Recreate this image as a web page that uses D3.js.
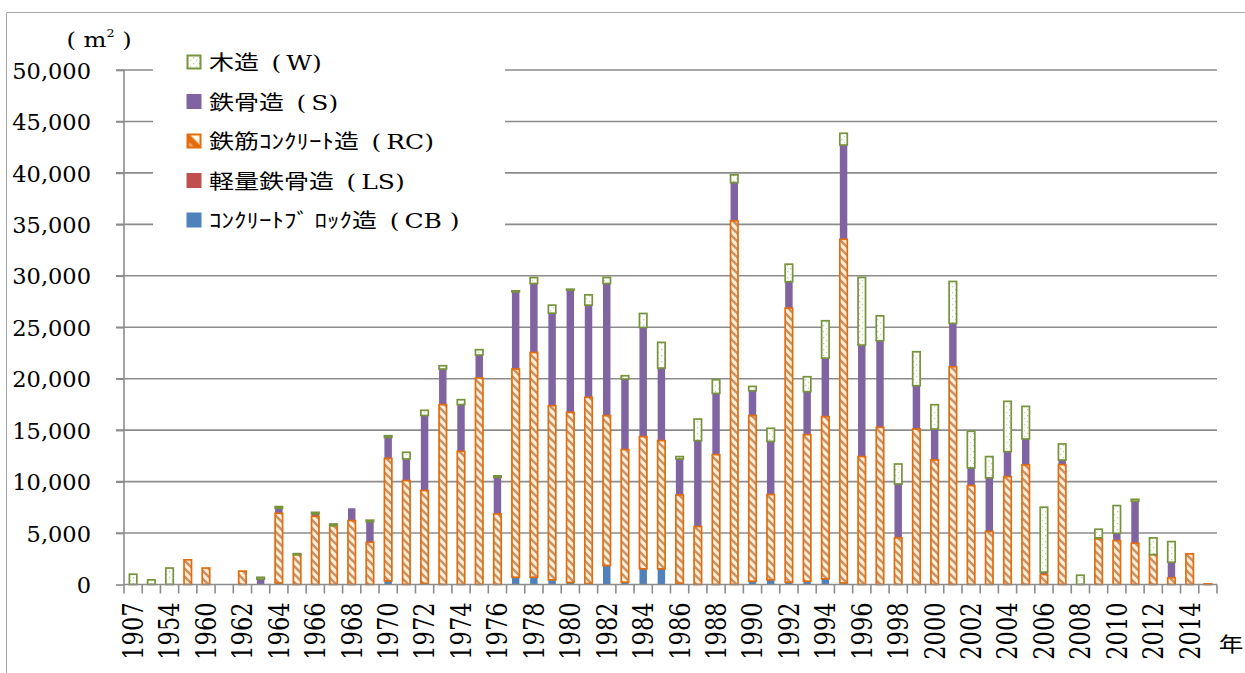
<!DOCTYPE html>
<html>
<head>
<meta charset="utf-8">
<script src="https://cdn.jsdelivr.net/npm/d3@7"></script>
<style>
  html, body { margin: 0; padding: 0; background: #fff; }
  svg { display: block; }
</style>
</head>
<body>
<svg id="chart" width="1245" height="673"></svg>
<script>
// Floor area (m²) by year of construction, split by structure type
const categories = [
  "1907","1950","1954","1957","1960","1961","1962","1963","1964","1965",
  "1966","1967","1968","1969","1970","1971","1972","1973","1974","1975",
  "1976","1977","1978","1979","1980","1981","1982","1983","1984","1985",
  "1986","1987","1988","1989","1990","1991","1992","1993","1994","1995",
  "1996","1997","1998","1999","2000","2001","2002","2003","2004","2005",
  "2006","2007","2008","2009","2010","2011","2012","2013","2014","2015"
];

// コンクリートブロック造 (CB)
const cbValues = [
  0, 0, 0, 0, 0, 0, 0, 0, 150, 0,
  0, 0, 0, 0, 350, 0, 100, 0, 0, 0,
  0, 700, 710, 450, 200, 100, 1840, 230, 1520, 1520,
  130, 0, 0, 0, 320, 450, 230, 320, 550, 150,
  0, 0, 0, 0, 0, 0, 0, 0, 0, 0,
  0, 0, 0, 0, 0, 0, 0, 0, 0, 0
];

// 軽量鉄骨造 (LS)
const lsValues = [
  0, 0, 0, 0, 0, 0, 0, 0, 0, 0,
  0, 0, 0, 0, 0, 0, 0, 0, 0, 0,
  0, 0, 0, 0, 0, 0, 0, 0, 0, 0,
  0, 0, 0, 0, 0, 0, 0, 0, 0, 0,
  0, 0, 0, 0, 0, 0, 0, 0, 0, 0,
  0, 0, 0, 0, 0, 0, 0, 0, 0, 0
];

// 鉄筋コンクリート造 (RC)
const rcValues = [
  0, 0, 0, 2400, 1600, 0, 1300, 0, 6770, 2900,
  6630, 5730, 6210, 4100, 11900, 10100, 9030, 17480, 12940, 20070,
  6860, 20240, 21840, 16930, 16530, 18090, 14570, 12880, 12850, 12460,
  8570, 5630, 12620, 35340, 16090, 8290, 26630, 14240, 15760, 33400,
  12430, 15270, 4530, 15110, 12100, 21160, 9610, 5150, 10480, 11620,
  970, 11650, 0, 4430, 4270, 4010, 2910, 650, 2980, 60
];

// 鉄骨造 (S)
const sValues = [
  0, 0, 0, 0, 0, 0, 0, 520, 490, 0,
  230, 0, 1200, 2000, 2040, 2100, 7300, 3460, 4540, 2230,
  3560, 7500, 6700, 8990, 11870, 8960, 12840, 6860, 10610, 7050,
  3500, 8350, 5950, 3720, 2420, 5170, 2560, 4180, 5690, 9160,
  10840, 8420, 5240, 4210, 3010, 4210, 1720, 5210, 2430, 2520,
  230, 450, 0, 100, 710, 4080, 0, 1520, 0, 0
];

// 木造 (W)
const wValues = [
  1000, 450, 1600, 0, 0, 0, 0, 180, 160, 100,
  150, 150, 0, 150, 170, 650, 500, 320, 480, 520,
  140, 100, 580, 780, 100, 1000, 590, 320, 1360, 2500,
  230, 2100, 1330, 750, 420, 1270, 1710, 1450, 3630, 1140,
  6570, 2420, 1940, 3300, 2360, 4080, 3560, 2070, 4890, 3170,
  6310, 1560, 900, 840, 2690, 190, 1620, 2000, 0, 0
];

const yTicks = [0, 5000, 10000, 15000, 20000, 25000, 30000, 35000, 40000, 45000, 50000];

const stackKeys = ["CB", "LS", "RC", "S", "W"];

const legendItems = [
  { key: "W",  jp: "木造",             en: "\u2002(\u2009W)" },
  { key: "S",  jp: "鉄骨造",           en: "\u2002(\u2009S)" },
  { key: "RC", jp: "鉄筋ｺﾝｸﾘｰﾄ造",     en: "\u2002(\u2009RC)" },
  { key: "LS", jp: "軽量鉄骨造",       en: "\u2002(\u2009LS)" },
  { key: "CB", jp: "ｺﾝｸﾘｰﾄﾌﾞ ﾛｯｸ造",   en: "\u2002(\u2009CB )" }
];

const unitLabel = "m";
const xUnitLabel = "年";

// ---- styling ----
const styles = {
  CB: { fill: "#4F81BD", stroke: "none" },
  LS: { fill: "#C0504D", stroke: "none" },
  RC: { fill: "url(#rcPattern)", stroke: "#E46C0A" },
  S:  { fill: "#8064A2", stroke: "none" },
  W:  { fill: "url(#wPattern)", stroke: "#77933C" }
};
const gridColor = "#8c8c8c";
const serif = "'DejaVu Serif', serif";
const cjk = "'Noto Sans CJK JP', sans-serif";

const svg = d3.select("#chart");

// ---- patterns ----
const defs = svg.append("defs");
const rc = defs.append("pattern").attr("id", "rcPattern")
  .attr("patternUnits", "userSpaceOnUse").attr("width", 8).attr("height", 8);
rc.append("rect").attr("width", 8).attr("height", 8).attr("fill", "#FFF1DC");
rc.append("path").attr("d", "M-2,-2L10,10M-2,6L2,10M6,-2L10,2")
  .attr("stroke", "#C4875A").attr("stroke-width", 2.6).attr("opacity", 0.9);

const rcLeg = defs.append("pattern").attr("id", "rcLegendPattern")
  .attr("patternUnits", "objectBoundingBox").attr("width", 1).attr("height", 1);
rcLeg.append("rect").attr("width", 14).attr("height", 14).attr("fill", "#FFF6EC");
rcLeg.append("path").attr("d", "M0,0L14,14M0,4L10,14L0,14Z")
  .attr("stroke", "#E46C0A").attr("stroke-width", 3).attr("fill", "#F5B27A");

const wp = defs.append("pattern").attr("id", "wPattern")
  .attr("patternUnits", "userSpaceOnUse").attr("width", 6).attr("height", 6);
wp.append("rect").attr("width", 6).attr("height", 6).attr("fill", "#FCFDF9");
wp.append("rect").attr("x", 1).attr("y", 1).attr("width", 1.2).attr("height", 1.2).attr("fill", "#B9C4A4");
wp.append("rect").attr("x", 4).attr("y", 4).attr("width", 1.2).attr("height", 1.2).attr("fill", "#C9D2B8");

// ---- scales ----
const plot = { left: 124, right: 1217, top: 70, bottom: 584.5 };

const x = d3.scaleBand()
  .domain(categories)
  .range([plot.left, plot.right])
  .paddingInner(0.59)
  .paddingOuter(0.295);

const y = d3.scaleLinear()
  .domain([0, 50000])
  .range([plot.bottom, plot.top]);

// ---- outer frame ----
svg.append("path")
  .attr("d", "M6.5,673V12.5H1245")
  .attr("fill", "none").attr("stroke", "#a6a6a6").attr("stroke-width", 1);

// ---- gridlines ----
svg.append("g").selectAll("line")
  .data(yTicks.filter(d => d > 0))
  .join("line")
  .attr("x1", plot.left - 8).attr("x2", plot.right)
  .attr("y1", d => y(d)).attr("y2", d => y(d))
  .attr("stroke", gridColor).attr("stroke-width", 1.6);

// ---- y axis ----
const yAxis = svg.append("g")
  .attr("transform", `translate(${plot.left},0)`)
  .call(d3.axisLeft(y).tickValues(yTicks).tickFormat(d3.format(",")).tickSize(8).tickPadding(25));
yAxis.select(".domain").attr("stroke", gridColor).attr("stroke-width", 1.6).attr("d", `M0,${y(50000)}V${y(0)}`);
yAxis.selectAll(".tick line").attr("stroke", gridColor).attr("stroke-width", 1.6);
yAxis.selectAll(".tick text")
  .attr("font-family", serif).attr("font-size", 22.5).attr("fill", "#000")
  .attr("dy", "0.36em");

// ---- stacked bars ----
const rows = categories.map((c, i) => ({
  year: c, CB: cbValues[i], LS: lsValues[i], RC: rcValues[i], S: sValues[i], W: wValues[i]
}));
const stacked = d3.stack().keys(stackKeys)(rows);
const drawOrder = ["CB", "LS", "S", "RC", "W"];

drawOrder.forEach(key => {
  const layer = stacked.find(s => s.key === key);
  const st = styles[key];
  svg.append("g").attr("class", "series-" + key)
    .selectAll("rect")
    .data(layer.filter(d => d[1] - d[0] > 0))
    .join("rect")
    .attr("x", d => x(d.data.year))
    .attr("width", x.bandwidth())
    .attr("y", d => y(d[1]))
    .attr("height", d => y(d[0]) - y(d[1]))
    .attr("fill", st.fill)
    .attr("stroke", st.stroke)
    .attr("stroke-width", st.stroke === "none" ? 0 : 1.7);
});

// ---- x axis ----
const xAxisG = svg.append("g").attr("transform", `translate(0,${plot.bottom})`);
xAxisG.append("line")
  .attr("x1", plot.left).attr("x2", plot.right)
  .attr("y1", 0).attr("y2", 0)
  .attr("stroke", gridColor).attr("stroke-width", 1.6);

const boundaries = categories.map(c => x(c) + x.bandwidth() / 2 - x.step() / 2);
boundaries.push(boundaries[boundaries.length - 1] + x.step());
xAxisG.selectAll("line.tickmark")
  .data(boundaries)
  .join("line").attr("class", "tickmark")
  .attr("x1", d => d).attr("x2", d => d)
  .attr("y1", 0).attr("y2", 9)
  .attr("stroke", gridColor).attr("stroke-width", 1.6);

const xLabels = svg.append("g")
  .attr("transform", `translate(0,${plot.bottom})`)
  .call(d3.axisBottom(x).tickValues(categories.filter((c, i) => i % 2 === 0)).tickSize(0));
xLabels.select(".domain").remove();
xLabels.selectAll(".tick text")
  .attr("font-family", serif).attr("font-size", 22.5).attr("fill", "#000")
  .attr("y", null).attr("dy", "0.36em")
  .attr("text-anchor", "end")
  .attr("transform", "translate(0,18) scale(1.22,1) rotate(-90)");

// ---- unit labels ----
const unit = svg.append("text")
  .attr("transform", "translate(99,47) scale(1.15,1)")
  .attr("text-anchor", "middle")
  .attr("font-family", serif).attr("font-size", 21).attr("fill", "#000");
unit.append("tspan").text("( ");
unit.append("tspan").text(unitLabel);
unit.append("tspan").attr("font-size", 11).attr("dy", -10).text("2");
unit.append("tspan").attr("dy", 10).text(" )");

svg.append("text")
  .attr("transform", "translate(1231,652) scale(1.2,1)")
  .attr("text-anchor", "middle")
  .attr("font-family", cjk).attr("font-size", 20.5).attr("fill", "#000")
  .text(xUnitLabel);

// ---- legend ----
const legend = svg.append("g");
legend.append("rect")
  .attr("x", 153).attr("y", 42).attr("width", 352).attr("height", 198)
  .attr("fill", "#fff");

const rowY = d3.scalePoint().domain(legendItems.map(d => d.key)).range([62, 220]);

const legRows = legend.selectAll("g.item")
  .data(legendItems)
  .join("g").attr("class", "item")
  .attr("transform", d => `translate(0,${rowY(d.key)})`);

legRows.append("rect")
  .attr("x", d => styles[d.key].stroke === "none" ? 186.5 : 187.5)
  .attr("y", d => styles[d.key].stroke === "none" ? -7.5 : -6.5)
  .attr("width", d => styles[d.key].stroke === "none" ? 15 : 13)
  .attr("height", d => styles[d.key].stroke === "none" ? 15 : 13)
  .attr("fill", d => d.key === "RC" ? "url(#rcLegendPattern)" : styles[d.key].fill)
  .attr("stroke", d => styles[d.key].stroke)
  .attr("stroke-width", d => styles[d.key].stroke === "none" ? 0 : 2);

const legText = legRows.append("text")
  .attr("transform", "translate(209,8) scale(1.22,1)")
  .attr("fill", "#000").attr("font-size", 20.5);
legText.append("tspan").attr("font-family", cjk).text(d => d.jp);
legText.append("tspan").attr("font-family", serif).text(d => d.en);
</script>
</body>
</html>
